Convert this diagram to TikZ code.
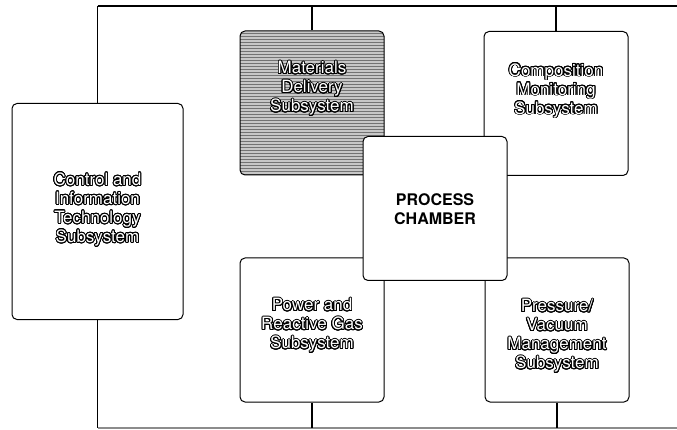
\documentclass[tikz,border=0pt]{standalone}
\usepackage{fontspec}
\setmainfont{TeX Gyre Heros}
\usepackage{contour}
\contourlength{0.9pt}
\contournumber{24}
\usetikzlibrary{patterns}
\newcommand{\olt}[1]{\textcolor{white}{\contour{black}{#1}}}
\tikzset{
  sub/.style={draw=black, line width=1pt, rounded corners=5pt, fill=white, minimum width=144pt, minimum height=144pt, inner sep=0pt},
  lab/.style={align=center, font=\fontsize{17}{19}\selectfont, inner sep=0pt},
  conn/.style={line width=1.4pt, black},
  faint/.style={line width=1.2pt, black!45},
}
\begin{document}
\begin{tikzpicture}[x=1pt, y=-1pt]
\useasboundingbox (0,0) rectangle (677,430);
% coordinates of the bus
\coordinate (tl) at (97.5,6);
\coordinate (tr) at (677,6);
\coordinate (bl) at (97.5,428);
\coordinate (br) at (677,428);
% boxes
\node[sub, minimum width=171pt, minimum height=216pt] (ctrl) at (97.5,211.5) {};
\node[sub, preaction={fill=black!22}, pattern=horizontal lines, pattern color=black!55] (mat) at (312,103) {};
\node[sub] (comp) at (556,103.5) {};
\node[sub] (pow) at (312,330) {};
\node[sub] (pres) at (557,330) {};
\node[sub] (pc) at (435,208.5) {};
% connectors
\draw[conn] (tl) -- (tr);
\draw[conn] (tl) -- (ctrl.north);
\draw[conn] (ctrl.south) -- (bl);
\draw[faint] (bl) -- (br);
\draw[conn] (mat.north) -- (mat.north |- tl);
\draw[conn] (comp.north) -- (comp.north |- tl);
\draw[conn] (pow.south) -- (pow.south |- bl);
\draw[conn] (pres.south) -- (pres.south |- bl);
% labels
\node[lab] (ctrlT) at (97.5,210) {\olt{Control and}\\\olt{Information}\\\olt{Technology}\\\olt{Subsystem}};
\node[lab] (matT) at (312,89) {\olt{Materials}\\\olt{Delivery}\\\olt{Subsystem}};
\node[lab] (compT) at (556,91) {\olt{Composition}\\\olt{Monitoring}\\\olt{Subsystem}};
\node[lab] (powT) at (312,326) {\olt{Power and}\\\olt{Reactive Gas}\\\olt{Subsystem}};
\node[lab] (presT) at (557,336.5) {\olt{Pressure/}\\\olt{Vacuum}\\\olt{Management}\\\olt{Subsystem}};
\node[align=center, inner sep=0pt, font=\fontsize{16}{19}\selectfont\bfseries] (pcT) at (435,209) {PROCESS\\CHAMBER};
\end{tikzpicture}
\end{document}
